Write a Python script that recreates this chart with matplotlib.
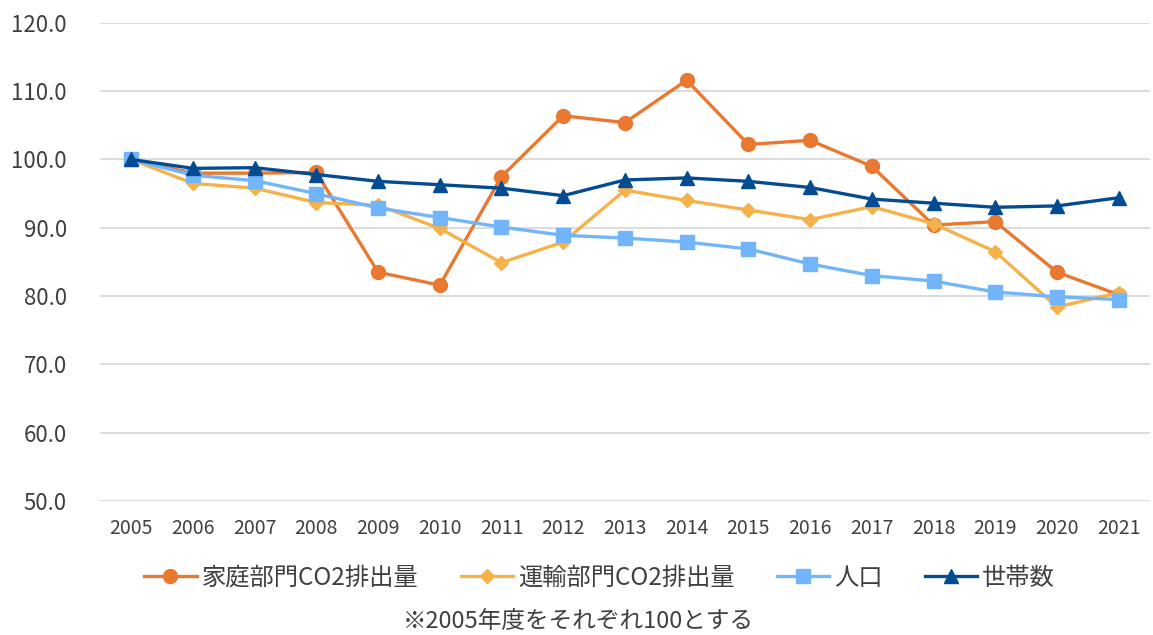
import matplotlib.pyplot as plt

plt.rcParams['font.family'] = ['Noto Sans CJK JP', 'DejaVu Sans']

years = list(range(2005, 2022))
household_co2 = [100.0, 98.0, 98.0, 98.1, 83.5, 81.6, 97.5, 106.4, 105.4, 111.6,
                 102.2, 102.8, 99.0, 90.4, 90.9, 83.5, 80.2]
transport_co2 = [100.0, 96.5, 95.8, 93.7, 93.3, 89.9, 84.9, 87.9, 95.5, 94.0,
                 92.6, 91.2, 93.1, 90.6, 86.5, 78.4, 80.5]
population = [100.0, 97.7, 96.9, 95.0, 92.9, 91.5, 90.1, 88.9, 88.5, 87.9,
              86.9, 84.7, 83.0, 82.2, 80.6, 79.9, 79.5]
households = [100.0, 98.7, 98.8, 97.8, 96.8, 96.3, 95.8, 94.7, 97.0, 97.3,
              96.8, 95.9, 94.2, 93.6, 93.0, 93.2, 94.4]

labels = ['家庭部門CO2排出量', '運輸部門CO2排出量', '人口', '世帯数']
y_ticks = [50, 60, 70, 80, 90, 100, 110, 120]
note = '※2005年度をそれぞれ100とする'

text_color = '#404040'

fig = plt.figure(figsize=(11.53, 6.35), dpi=100)
ax = fig.add_axes([0.087, 0.211, 0.91, 0.753])

ax.plot(years, household_co2, color='#E97830', lw=2.4, marker='o', ms=10, label=labels[0])
ax.plot(years, transport_co2, color='#F5B24B', lw=2.4, marker='D', ms=7, label=labels[1])
ax.plot(years, population, color='#73B5FA', lw=2.4, marker='s', ms=9.5, label=labels[2])
ax.plot(years, households, color='#034C92', lw=2.4, marker='^', ms=10, label=labels[3])

ax.set_xlim(2004.5, 2021.5)
ax.set_ylim(50, 120)
ax.set_yticks(y_ticks)
ax.set_yticklabels([f'{v:.1f}' for v in y_ticks])
ax.set_xticks(years)
ax.grid(axis='y', color='#d9d9d9', lw=1.3)
ax.set_axisbelow(True)
for s in ax.spines.values():
    s.set_visible(False)
ax.tick_params(length=0)
ax.tick_params(axis='y', labelsize=16, labelcolor=text_color, pad=24)
ax.tick_params(axis='x', labelsize=14, labelcolor=text_color, pad=12)

# legend sits a little right of centre in the original
fig.legend(loc='center', bbox_to_anchor=(0.52, 0.09), ncol=4, frameon=False,
           fontsize=17.5, handlelength=2.15, columnspacing=1.75, labelcolor=text_color,
           handletextpad=0.2)
fig.text(0.502, 0.022, note, ha='center', va='center', fontsize=17, color=text_color)

fig.savefig('out.png', dpi=100)
